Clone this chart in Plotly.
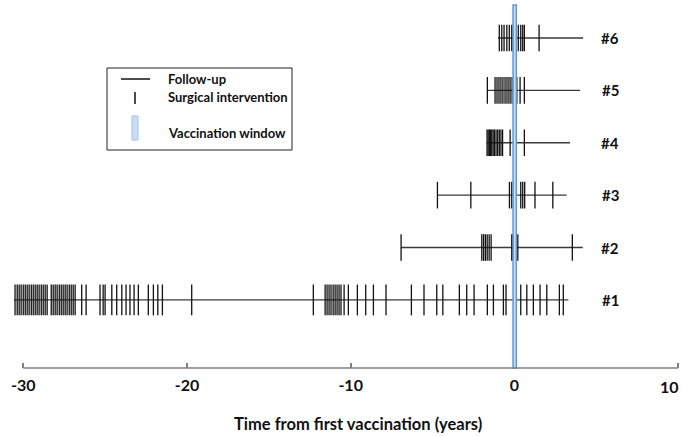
import plotly.graph_objects as go

patients = ["#1", "#2", "#3", "#4", "#5", "#6"]
followup_start = [-30.56, -6.92, -4.70, -1.67, -1.65, -1.00]
followup_end = [3.30, 4.18, 3.20, 3.40, 4.01, 4.20]

surgeries_1 = [-30.5, -30.37, -30.25, -30.13, -30.0, -29.88, -29.76, -29.64, -29.51, -29.39,
               -29.27, -29.15, -29.03, -28.9, -28.78, -28.66, -28.54, -28.29, -28.17, -28.05,
               -27.93, -27.8, -27.68, -27.56, -27.44, -27.32, -27.19, -27.07, -26.95, -26.83,
               -26.43, -26.16, -25.31, -25.12, -25.0, -24.59, -24.29, -23.98, -23.72, -23.48,
               -23.23, -22.97, -22.36, -22.05, -21.78, -21.5, -19.71, -12.28, -11.56, -11.44,
               -11.32, -11.2, -11.07, -10.95, -10.83, -10.71, -10.59, -10.4, -10.14, -9.59,
               -9.08, -8.61, -7.84, -6.29, -5.52, -4.74, -4.37, -3.36, -2.91, -2.46,
               -1.65, -1.28, -0.67, -0.51, 0.39, 0.76, 1.16, 1.57, 1.98, 2.75, 2.99]
surgeries_2 = [-6.92, -1.99, -1.88, -1.77, -1.66, -1.54, -1.42, -0.16, -0.08, 0.21, 3.54]
surgeries_3 = [-4.70, -2.66, -0.30, -0.16, 0.39, 0.51, 0.63, 1.26, 2.35]
surgeries_4 = [-1.67, -1.6, -1.52, -1.45, -1.38, -1.3, -1.22, -1.12, -1.02, -0.92, -0.82,
               -0.72, -0.26, 0.61]
surgeries_5 = [-1.65, -1.18, -1.06, -0.94, -0.82, -0.70, -0.57, -0.45, -0.33, -0.21, -0.08,
               0.15, 0.35, 0.61]
surgeries_6 = [-0.92, -0.77, -0.63, -0.46, -0.31, -0.16, -0.06, 0.10, 0.24, 0.39, 0.51,
               0.61, 1.51]
surgeries = [surgeries_1, surgeries_2, surgeries_3, surgeries_4, surgeries_5, surgeries_6]

vacc_start, vacc_end = -0.08, 0.12
x_ticks = [-30, -20, -10, 0, 10]
x_title = "Time from first vaccination (years)"
legend_labels = ["Follow-up", "Surgical intervention", "Vaccination window"]

FONT = "Lato, 'Open Sans', sans-serif"

def py(y):
    return (437 - 69 - y) / 363

fig = go.Figure()
for i, name in enumerate(patients):
    row = i + 1
    fig.add_trace(go.Scatter(
        x=[followup_start[i], followup_end[i]], y=[row, row], mode="lines",
        line=dict(color="#3a3a3a", width=1.3), showlegend=False, hoverinfo="skip"))
    fig.add_trace(go.Scatter(
        x=surgeries[i], y=[row] * len(surgeries[i]), mode="markers",
        marker=dict(symbol="line-ns", size=22 if row == 1 else 19,
                    line=dict(color="#111111", width=1.3)),
        showlegend=False, hoverinfo="skip"))
    fig.add_annotation(x=5.85, y=row, text="<b>" + name + "</b>", showarrow=False,
                       xref="x", yref="y", font=dict(family=FONT, size=15, color="#111"))

# vaccination window
fig.add_shape(type="rect", xref="x", yref="paper", x0=vacc_start, x1=vacc_end, y0=0, y1=1,
              fillcolor="#c9def2", line=dict(color="#5b9bd5", width=1.5), layer="above")

# x axis line from -30 to 10
fig.add_shape(type="line", xref="x", yref="paper", x0=x_ticks[0], x1=x_ticks[-1], y0=0, y1=0,
              line=dict(color="#7f7f7f", width=1.5))

# right-most tick label (kept inside the page like the reference)
fig.add_annotation(x=681/682, y=py(386), xref="paper", yref="paper",
                   text="<b>%d</b>" % x_ticks[-1], showarrow=False,
                   xanchor="right", yanchor="middle",
                   font=dict(family=FONT, size=16, color="#111"))

# axis title
fig.add_annotation(x=358/682, y=py(424), xref="paper", yref="paper",
                   text="<b>" + x_title + "</b>", showarrow=False,
                   xanchor="center", yanchor="middle",
                   font=dict(family=FONT, size=16.5, color="#111"))

# legend box (manual)
fig.add_shape(type="rect", xref="paper", yref="paper", x0=107/682, x1=292/682,
              y0=py(150), y1=py(68),
              line=dict(color="#222", width=1), fillcolor="white", layer="above")
fig.add_shape(type="line", xref="paper", yref="paper", x0=121/682, x1=150/682,
              y0=py(79), y1=py(79), line=dict(color="#111", width=1.5), layer="above")
fig.add_shape(type="line", xref="paper", yref="paper", x0=135/682, x1=135/682,
              y0=py(92), y1=py(104), line=dict(color="#111", width=1.5), layer="above")
fig.add_shape(type="rect", xref="paper", yref="paper", x0=132/682, x1=138/682,
              y0=py(140), y1=py(116), fillcolor="#c9def2",
              line=dict(color="#9dc3e6", width=1), layer="above")
for lab, yy in zip(legend_labels, [79, 97, 133]):
    fig.add_annotation(x=166/682, y=py(yy), xref="paper", yref="paper", text="<b>" + lab + "</b>",
                       showarrow=False, xanchor="left", yanchor="middle",
                       font=dict(family=FONT, size=13, color="#111"))

fig.update_layout(
    width=682, height=437, margin=dict(l=0, r=0, t=5, b=69),
    paper_bgcolor="white", plot_bgcolor="white",
    font=dict(family=FONT, size=13, color="#111"),
    xaxis=dict(range=[-31.42, 10.24], tickvals=x_ticks,
               ticktext=["<b>%d</b>" % v for v in x_ticks[:-1]] + [""],
               ticks="inside", ticklen=5, tickcolor="#7f7f7f", tickwidth=1.5,
               ticklabelstandoff=6,
               showline=False, showgrid=False, zeroline=False,
               tickfont=dict(family=FONT, size=16, color="#111")),
    yaxis=dict(range=[-0.30, 6.63], visible=False),
)
fig.write_html("out.html")
